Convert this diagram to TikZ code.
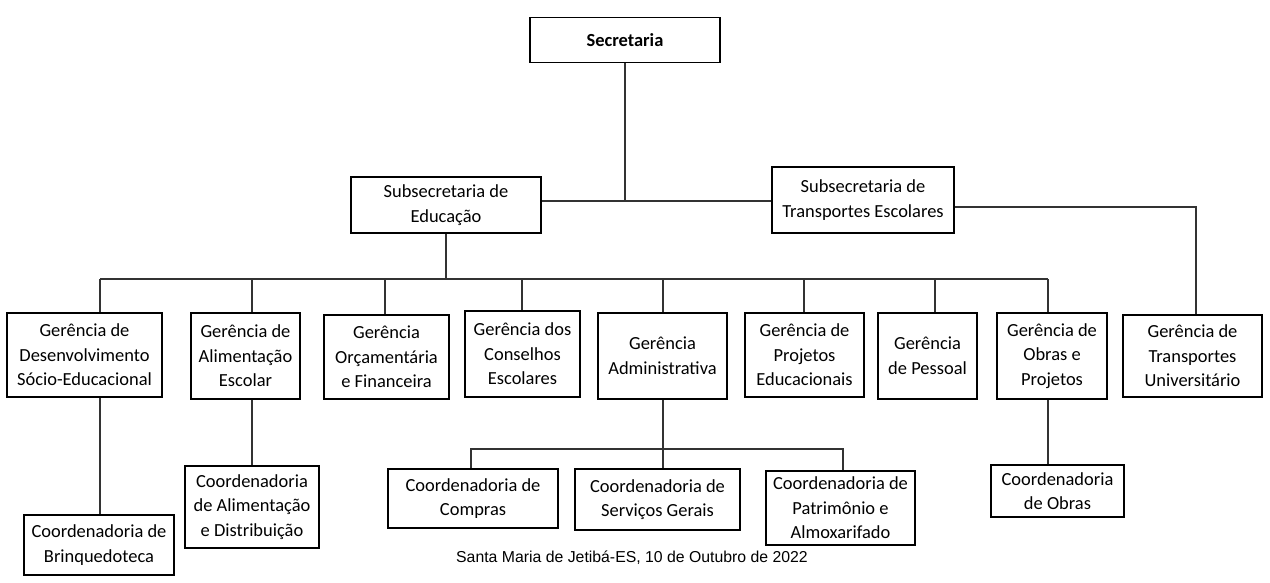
\documentclass[tikz,border=0pt]{standalone}
\usepackage{fontspec}
\setmainfont{Carlito}
\newfontfamily\footfont{Liberation Sans}
\begin{document}
\begin{tikzpicture}
[
x=0.02cm, y=-0.02cm,
box/.style={rectangle, draw=black, line width=0.9pt, align=center, font=\fontsize{10.5}{14}\selectfont, inner sep=1pt},
link/.style={draw=black!80, line width=0.6pt},
]
\useasboundingbox (0,0) rectangle (1270,582);

\node at (625,40) [box, minimum width=190*0.02cm, minimum height=45*0.02cm] (sec) {\textbf{Secretaria}};
\node at (446,205) [box, minimum width=190*0.02cm, minimum height=56*0.02cm] (subedu) {Subsecretaria de\\Educação};
\node at (863,200) [box, minimum width=182*0.02cm, minimum height=66*0.02cm] (subtra) {Subsecretaria de\\Transportes Escolares};

\node at (84.5,355) [box, minimum width=155*0.02cm, minimum height=84*0.02cm] (g1) {Gerência de\\Desenvolvimento\\Sócio-Educacional};
\node at (245.5,356) [box, minimum width=109*0.02cm, minimum height=86*0.02cm] (g2) {Gerência de\\Alimentação\\Escolar};
\node at (386.5,357) [box, minimum width=125*0.02cm, minimum height=84*0.02cm] (g3) {Gerência\\Orçamentária\\e Financeira};
\node at (522.5,354) [box, minimum width=115*0.02cm, minimum height=86*0.02cm] (g4) {Gerência dos\\Conselhos\\Escolares};
\node at (662.5,356) [box, minimum width=129*0.02cm, minimum height=86*0.02cm] (g5) {Gerência\\Administrativa};
\node at (804.5,355) [box, minimum width=119*0.02cm, minimum height=84*0.02cm] (g6) {Gerência de\\Projetos\\Educacionais};
\node at (927.5,356) [box, minimum width=99*0.02cm, minimum height=86*0.02cm] (g7) {Gerência\\de Pessoal};
\node at (1052,356) [box, minimum width=110*0.02cm, minimum height=86*0.02cm] (g8) {Gerência de\\Obras e\\Projetos};
\node at (1192.5,356) [box, minimum width=139*0.02cm, minimum height=82*0.02cm] (g9) {Gerência de\\Transportes\\Universitário};

\node at (99,545) [box, minimum width=150*0.02cm, minimum height=60*0.02cm] (c1) {Coordenadoria de\\Brinquedoteca};
\node at (252,507) [box, minimum width=134*0.02cm, minimum height=82*0.02cm] (c2) {Coordenadoria\\de Alimentação\\e Distribuição};
\node at (473,498.5) [box, minimum width=170*0.02cm, minimum height=59*0.02cm] (c3) {Coordenadoria de\\Compras};
\node at (657.5,499.5) [box, minimum width=165*0.02cm, minimum height=61*0.02cm] (c4) {Coordenadoria de\\Serviços Gerais};
\node at (840.5,508) [box, minimum width=149*0.02cm, minimum height=74*0.02cm] (c5) {Coordenadoria de\\Patrimônio e\\Almoxarifado};
\node at (1057.5,491) [box, minimum width=133*0.02cm, minimum height=52*0.02cm] (c6) {Coordenadoria\\de Obras};

\node at (632,558) [font=\footfont\fontsize{9}{11}\selectfont] (data) {Santa Maria de Jetibá-ES, 10 de Outubro de 2022};

\coordinate (jsec) at (625,201);
\draw[link] (sec.south) -- (jsec);
\draw[link] (subedu.east |- jsec) -- (subtra.west |- jsec);
\draw[link] (subtra.east |- 0,207) -| (1196,0 |- g9.north);

\coordinate (jedu) at (446,279);
\draw[link] (subedu.south) -- (jedu);
\draw[link] (100,279) -- (1048,279);
\foreach \g/\xx in {g1/100,g2/252,g3/385,g4/522,g5/663,g6/804,g7/935,g8/1048}
  \draw[link] (\xx,279) -- (\xx,0 |- \g.north);

\draw[link] (100,0 |- g1.south) -- (100,0 |- c1.north);
\draw[link] (252,0 |- g2.south) -- (c2.north);
\draw[link] (1048,0 |- g8.south) -- (1048,0 |- c6.north);

\coordinate (jadm) at (663,449);
\draw[link] (663,0 |- g5.south) -- (jadm);
\draw[link] (471,0 |- c3.north) |- (843,449) -- (843,0 |- c5.north);
\draw[link] (jadm) -- (663,0 |- c4.north);
\end{tikzpicture}
\end{document}
